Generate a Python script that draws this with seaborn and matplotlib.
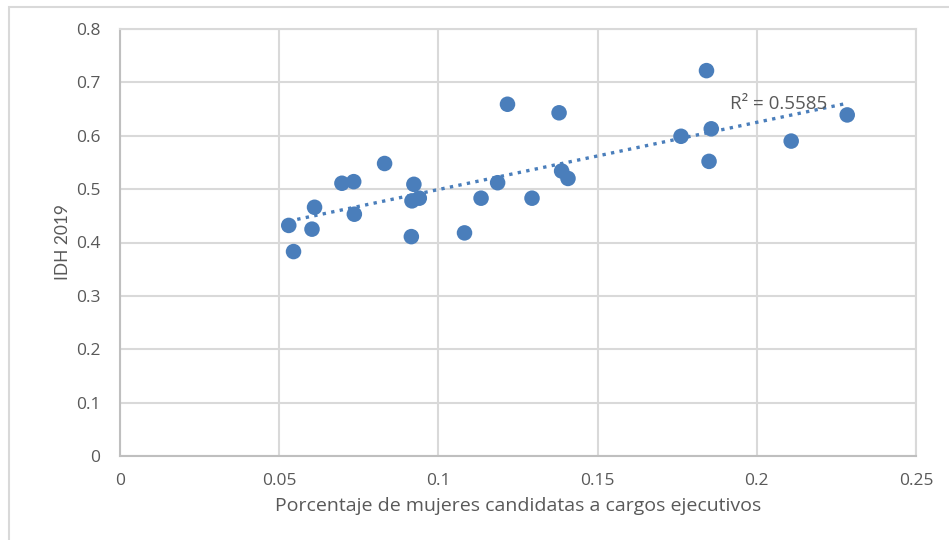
import numpy as np
import pandas as pd
import matplotlib
matplotlib.use("Agg")
import matplotlib.pyplot as plt
import seaborn as sns
from matplotlib.patches import Rectangle

# share of women candidates for executive posts vs HDI 2019
pct_mujeres = [0.0530, 0.0545, 0.0603, 0.0611, 0.0697, 0.0734, 0.0736, 0.0831,
               0.0923, 0.0917, 0.0940, 0.0915, 0.1082, 0.1134, 0.1186, 0.1217,
               0.1294, 0.1379, 0.1387, 0.1407, 0.1762, 0.1842, 0.1857, 0.1850,
               0.2108, 0.2284]
idh_2019 = [0.432, 0.383, 0.425, 0.466, 0.511, 0.514, 0.453, 0.548,
            0.509, 0.478, 0.483, 0.411, 0.418, 0.483, 0.512, 0.659,
            0.483, 0.643, 0.534, 0.520, 0.599, 0.722, 0.613, 0.552,
            0.590, 0.639]
x_ticks = [0, 0.05, 0.1, 0.15, 0.2, 0.25]
y_ticks = [0, 0.1, 0.2, 0.3, 0.4, 0.5, 0.6, 0.7, 0.8]
r2_text = "R² = 0.5585"

df = pd.DataFrame({"pct": pct_mujeres, "idh": idh_2019})

sns.set_theme(style="white")
plt.rcParams["font.family"] = ["Open Sans", "DejaVu Sans"]

grey_txt = "#595959"
grid_c = "#D9D9D9"
blue = "#4A7EBB"

fig = plt.figure(figsize=(9.49, 5.40), dpi=100)
ax = fig.add_axes([120 / 949, 1 - 456 / 540, (916 - 120) / 949, (456 - 29) / 540])

# outer chart border (only top/left visible in the crop)
fig.patches.append(Rectangle((9 / 949, -0.1), 1.2, 1.1 - 7 / 540,
                             transform=fig.transFigure, fill=False,
                             edgecolor="#D9D9D9", linewidth=1.5))

sns.regplot(data=df, x="pct", y="idh", ax=ax, scatter=False, ci=None,
            line_kws={"color": blue, "linestyle": (0, (1, 1.6)), "linewidth": 2.4})
sns.scatterplot(data=df, x="pct", y="idh", ax=ax, color=blue, s=125,
                edgecolor="none", zorder=3)

ax.set_xlim(0, 0.25)
ax.set_ylim(0, 0.8)
ax.set_xticks(x_ticks)
ax.set_yticks(y_ticks)
ax.set_xticklabels([f"{v:g}" for v in x_ticks])
ax.set_yticklabels([f"{v:g}" for v in y_ticks])
ax.grid(True, color=grid_c, linewidth=1.5)
ax.set_axisbelow(True)
for sp in ax.spines.values():
    sp.set_color(grid_c)
    sp.set_linewidth(1.5)
ax.spines["left"].set_color("#BFBFBF")
ax.spines["bottom"].set_color("#BFBFBF")
ax.tick_params(axis="both", colors=grey_txt, labelsize=12.5, length=0)
ax.tick_params(axis="x", pad=12)
ax.tick_params(axis="y", pad=14)

ax.set_xlabel("Porcentaje de mujeres candidatas a cargos ejecutivos",
              color=grey_txt, fontsize=14, labelpad=6)
ax.set_ylabel("IDH 2019", color=grey_txt, fontsize=12.5, labelpad=4,
              family=["Lato", "DejaVu Sans"])

ax.text(0.1915, 0.66, r2_text, color=grey_txt, fontsize=13.5, va="center")

fig.savefig("out.png", dpi=100)
